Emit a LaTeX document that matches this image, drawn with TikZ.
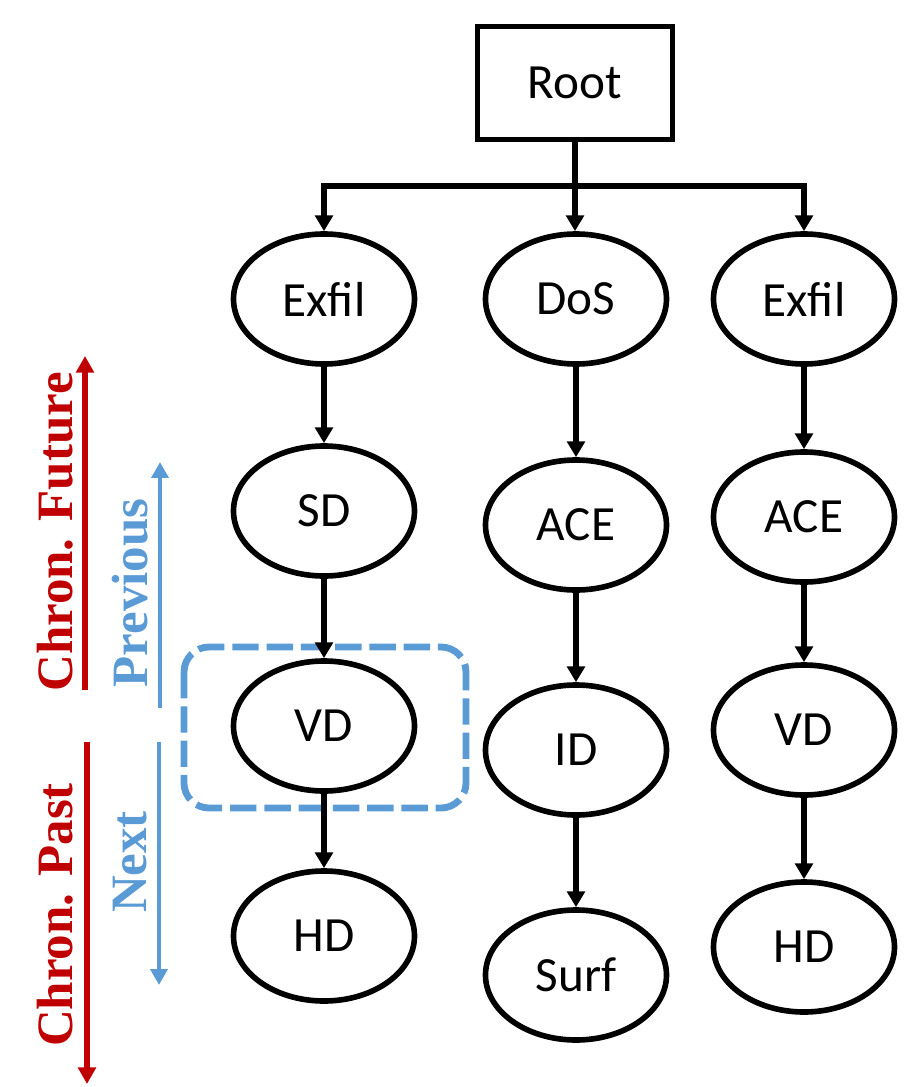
\documentclass[tikz,border=0pt]{standalone}
\usepackage{fontspec}
\setmainfont{Carlito}
\newfontfamily\labelfont{Liberation Serif}
\usetikzlibrary{shapes.geometric,arrows.meta}
\definecolor{chronred}{RGB}{192,0,0}
\definecolor{navblue}{RGB}{91,155,213}

\begin{document}
\begin{tikzpicture}[x=0.2mm,y=-0.2mm,
  state/.style={ellipse,draw,line width=3.2pt,minimum width=3.62cm,minimum height=2.6cm,inner sep=0pt,font=\fontsize{28}{34}\selectfont},
  rootbox/.style={rectangle,draw,line width=3.2pt,minimum width=3.9cm,minimum height=2.26cm,font=\fontsize{28}{34}\selectfont},
  arr/.style={line width=3.1pt,-{Triangle[length=9pt,width=10pt]}},
  chron/.style={chronred,line width=3.3pt,-{Triangle[length=9.5pt,width=10pt]}},
  nav/.style={navblue,line width=2.7pt,-{Triangle[length=9pt,width=9.5pt]}},
  side/.style={rotate=90,font=\labelfont\bfseries\fontsize{29}{34}\selectfont}]
\useasboundingbox (0,0) rectangle (915,1087);
% focus box
\draw[navblue,line width=3.9pt,dash pattern=on 15pt off 4.5pt,rounded corners=0.5cm] (184,647) rectangle (466,808);
% tree
\node[rootbox] (root) at (575,83) {Root};
\node[state] (exA) at (324,299) {Exfil};
\node[state] (sdA) at (324,511) {SD};
\node[state] (vdA) at (324,726) {VD};
\node[state] (hdA) at (324,936) {HD};
\node[state] (dosB) at (576,299) {DoS};
\node[state] (aceB) at (576,525) {ACE};
\node[state] (idB) at (576,750) {ID};
\node[state] (surfB) at (576,975) {Surf};
\node[state] (exC) at (804,299) {Exfil};
\node[state] (aceC) at (804,517) {ACE};
\node[state] (vdC) at (804,730) {VD};
\node[state] (hdC) at (804,947) {HD};
\coordinate (split) at (575,186);
\draw[line width=3.1pt] (root) -- (split);
\draw[arr] (split) -| (exA.north);
\draw[arr] (split) -- (split |- dosB.north);
\draw[arr] (split) -| (exC.north);
\draw[arr] (exA) -- (sdA);
\draw[arr] (sdA) -- (vdA);
\draw[arr] (vdA) -- (hdA);
\draw[arr] (dosB) -- (aceB);
\draw[arr] (aceB) -- (idB);
\draw[arr] (idB) -- (surfB);
\draw[arr] (exC) -- (aceC);
\draw[arr] (aceC) -- (vdC);
\draw[arr] (vdC) -- (hdC);
% time axes
\coordinate (futA) at (85,690);
\coordinate (futB) at (85,356);
\coordinate (pastA) at (87,742);
\coordinate (pastB) at (87,1084);
\coordinate (prevA) at (160,708);
\coordinate (prevB) at (160,462);
\coordinate (nextA) at (159,742);
\coordinate (nextB) at (159,985);
\draw[chron] (futA) -- (futB);
\draw[chron] (pastA) -- (pastB);
\draw[nav] (prevA) -- (prevB);
\draw[nav] (nextA) -- (nextB);
\node[side,chronred] (future) at (55,532) {Chron. Future};
\node[side,chronred] (past) at (55,915) {Chron. Past};
\node[side,navblue] (prev) at (130,593) {Previous};
\node[side,navblue] (next) at (130,862) {Next};
\end{tikzpicture}
\end{document}
